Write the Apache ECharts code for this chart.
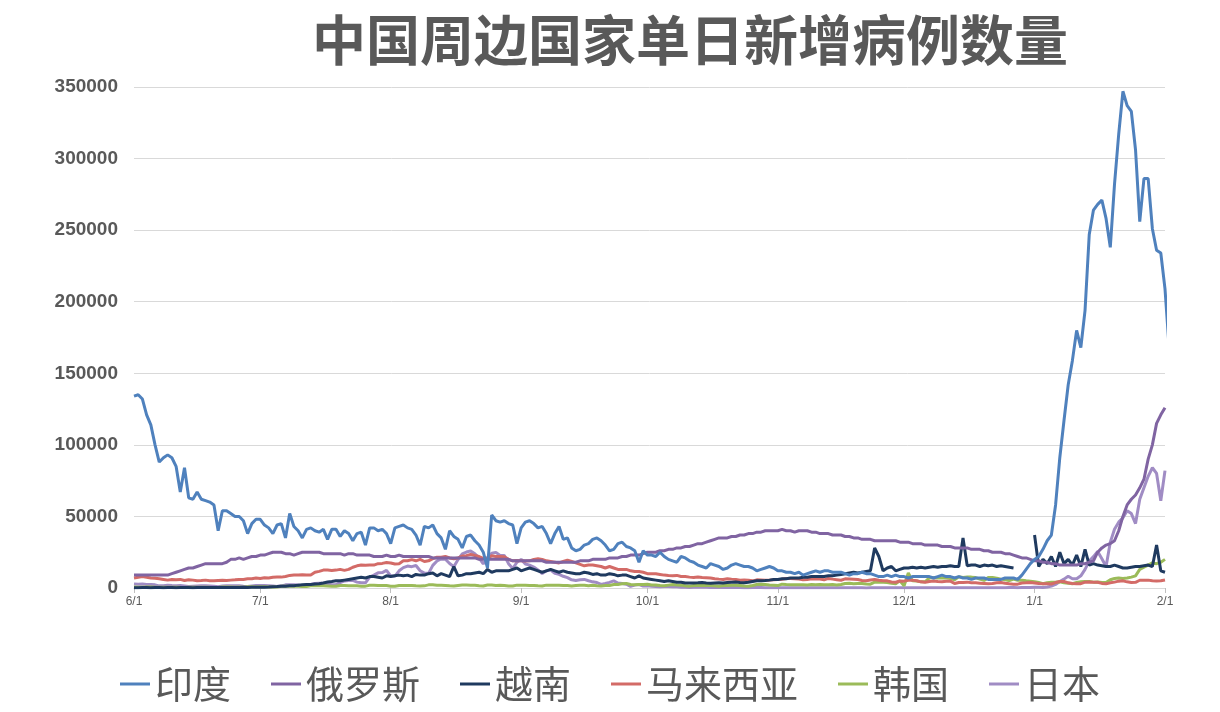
<!DOCTYPE html>
<html><head><meta charset="utf-8">
<script src="https://cdn.jsdelivr.net/npm/echarts@6/dist/echarts.min.js"></script>
<style>html,body{margin:0;padding:0;background:#fff}#c{width:1220px;height:712px}</style>
</head><body><div id="c"></div>
<script>
const yTicks = [0, 50000, 100000, 150000, 200000, 250000, 300000, 350000];
const monthLabels = ['6/1','7/1','8/1','9/1','10/1','11/1','12/1','1/1','2/1'];
const monthLengths = [30,31,31,30,31,30,31,31,1];
const seriesNames = ['印度','俄罗斯','越南','马来西亚','韩国','日本'];

const india = [
134000,135000,132000,121000,114000,100000,88000,91000,93000,91000,85000,67000,84000,63000,62000,67000,62000,61000,60000,58000,40000,54000,54000,52000,50000,50000,47000,38000,45000,48000,
48000,44000,42000,38000,44000,45000,35000,52000,43000,40000,35000,41000,42000,40000,39000,41000,34000,41000,41000,36000,40000,38000,33000,38000,39000,30000,42000,42000,40000,41000,38000,
31000,42000,43000,44000,42000,41000,37000,30000,43000,42000,44000,38000,35000,27000,40000,36000,34000,28000,36000,37000,33000,30000,25000,14000,51000,47000,46000,47000,45000,44000,31000,
42000,46000,47000,45000,42000,43000,38000,31000,38000,43000,34000,35000,28000,26000,27000,30000,31000,34000,35000,33000,30000,26000,27000,31000,32000,29000,28000,26000,18000,26000,23000,
23000,22000,25000,22000,20000,19000,18000,22000,21000,19000,18000,16000,15000,14000,17000,16000,15000,13000,14000,16000,17000,16000,15000,15000,14000,12000,13000,14000,15000,14000,12000,
12000,11000,11000,10000,11000,9000,10000,11000,12000,11000,12000,12000,11000,11000,11000,10000,9000,10000,10000,11000,10000,10000,9000,8000,8000,9000,8000,9000,8000,8000,
7000,8000,8000,8000,8000,8000,7000,8000,9000,8000,8000,7000,8000,7000,7000,6000,7000,7000,7000,6000,6000,6000,6000,7000,7000,7000,6000,9000,13000,17000,20000,
22000,27000,33000,37000,58000,91000,117000,142000,159000,180000,168000,194000,247000,264000,268000,271000,258000,238000,282000,317000,347000,337000,333000,306000,256000,286000,286000,251000,236000,234000,209000,
167000];

const russia = [
9000,9000,9000,9000,9000,9000,9000,9000,9000,10000,11000,12000,13000,14000,14000,15000,16000,17000,17000,17000,17000,17000,18000,20000,20000,21000,20000,21000,22000,22000,
23000,23000,24000,25000,25000,25000,24000,24000,23000,24000,25000,25000,25000,25000,25000,24000,24000,24000,24000,24000,23000,24000,24000,23000,23000,23000,23000,22000,22000,22000,23000,
22000,22000,23000,22000,22000,22000,22000,22000,22000,22000,21000,21000,21000,21000,21000,21000,21000,21000,21000,21000,21000,20000,20000,20000,20000,20000,20000,20000,20000,19000,19000,
19000,19000,19000,19000,19000,19000,18000,18000,18000,18000,18000,18000,18000,18000,19000,19000,19000,20000,20000,20000,20000,21000,21000,21000,22000,22000,23000,23000,23000,24000,
25000,25000,25000,26000,26000,27000,27000,28000,28000,29000,29000,30000,31000,31000,32000,33000,34000,35000,35000,35000,36000,36000,37000,37000,38000,38000,39000,39000,40000,40000,40000,
40000,41000,40000,40000,39000,40000,40000,40000,39000,39000,38000,38000,38000,37000,37000,37000,36000,36000,35000,35000,34000,34000,34000,33000,33000,33000,33000,33000,33000,32000,
32000,32000,31000,31000,31000,30000,30000,30000,30000,29000,29000,29000,28000,28000,28000,28000,27000,27000,27000,26000,26000,25000,25000,25000,24000,24000,23000,22000,21000,21000,20000,
19000,19000,18000,18000,17000,17000,16000,16000,16000,16000,16000,17000,17000,18000,19000,25000,28000,30000,31000,33000,40000,50000,58000,62000,65000,70000,76000,90000,100000,115000,121000,
126000];

const vietnam = [
200,200,300,300,200,300,300,200,300,300,200,300,300,300,200,300,300,400,400,300,300,400,400,400,300,400,500,400,500,500,
500,600,700,900,1000,1200,1300,1500,1600,2000,2300,2400,2500,2800,3000,3500,4200,4500,5000,5000,5500,6000,6500,7000,7500,7000,8000,8000,7500,7000,8500,
8000,8500,9000,8500,9000,8000,9500,9000,9000,10000,10500,8500,10000,9000,8000,15000,8500,9000,10000,10000,10500,11000,10000,13000,11000,12000,12000,12000,12000,13000,14000,
12000,13000,14000,13000,12000,11000,12000,13000,12000,11000,12000,11000,10500,10000,10000,11000,10500,9500,10000,9000,9000,10000,9500,8500,9000,9000,8000,7000,8500,7000,
6500,6000,5500,5000,4500,5000,4500,4000,4000,3500,3500,3500,3600,3800,3500,3300,3500,3700,3500,3800,4000,4200,3800,3600,4000,4500,5000,5000,5200,5500,6000,
6000,6500,6500,7000,7000,7000,7500,7500,8000,8000,8000,8000,8500,8500,9000,9500,10000,10500,11000,10500,11000,11500,12000,28000,22000,12000,14000,15000,12000,13000,
14000,14000,14500,14000,14500,14000,14500,15000,14500,15000,15000,15500,15000,15000,35000,15500,16000,16000,15000,16000,15500,16000,15000,15500,15000,14500,14000,null,null,null,null,
37000,15000,20000,17000,22000,15000,25000,17000,20000,16000,23000,15000,27000,16000,17000,16000,15500,15000,15000,16000,15000,14000,14000,14500,15000,15000,15500,16000,15000,30000,12000,
11000];

const malaysia = [
7000,7500,8000,7500,7000,6800,6500,6000,5500,6000,5800,6000,5200,5800,5500,5000,5200,5500,5000,5000,5300,5400,5300,5500,5700,6000,6000,6500,6500,7000,
6700,7200,7000,7500,7600,7600,8000,8800,9000,9000,9200,9000,9100,11000,11600,12500,12500,12200,12500,13000,12300,13000,14500,15500,16000,15900,16000,16000,17000,17200,17800,
17500,16800,17000,19000,19000,19800,19000,20000,18500,19000,20500,21500,21500,22000,21000,20500,21000,22300,22600,23500,22700,22000,20700,20500,22500,22000,22000,21800,20000,19000,19200,
19000,18800,19000,20000,20400,20000,19000,18500,18000,17500,18500,19500,18500,17500,16500,15500,16000,16000,15500,15000,14000,15000,14000,13000,13000,13000,12000,11500,11500,11000,
10000,10000,10000,9500,9000,8700,8600,8800,8000,8000,7600,7300,7700,7300,7200,7000,6500,6200,6000,6500,6200,6000,5500,5600,5500,5000,5700,5600,5400,5500,5700,
6000,6100,6600,6700,6500,6300,5800,6000,6500,6300,6300,5700,6700,6200,5800,5400,6400,6300,6100,5900,5300,5100,5600,6000,5400,5000,5000,4200,4000,4900,
4800,5400,5500,5100,4300,4000,4600,4900,4500,4400,4700,4800,3100,3800,3900,4100,3700,3600,3400,3200,3000,3100,3700,3800,3300,2900,2700,2700,3500,3600,3900,
3500,3100,3000,2900,2800,3800,4500,4500,3600,3100,3000,3000,4100,4200,4000,4000,3200,3000,3600,4100,4800,5000,4300,3800,4000,5400,5400,5500,5000,4900,5000,
5600];

const korea = [
700,500,600,700,700,550,500,600,600,600,550,450,400,550,550,600,500,550,450,400,400,650,650,650,600,650,600,800,800,700,
800,800,750,700,750,1200,1200,1300,1300,1300,1100,1100,1600,1600,1600,1500,1400,1200,1200,1800,1800,1600,1600,1500,1300,1300,1900,1900,1700,1700,1700,
1200,1200,1700,1700,1700,1700,1500,1400,1500,2200,2200,2000,1900,1800,1500,1400,1800,2100,2100,2000,1900,1600,1400,2100,2100,1800,1900,1800,1400,1400,2000,
2000,1900,1700,1800,1500,1400,2000,2000,1900,1900,1800,1700,1400,1700,2000,1900,1600,1900,1600,1400,1700,1700,2400,2400,2900,3200,2400,2300,2500,2500,
2600,2100,2100,1700,1600,2000,2400,2100,2000,1600,1300,1800,1900,1700,1900,1700,1500,1300,1700,1700,2000,2000,1700,1400,1300,1700,2400,2600,2400,2100,2000,
1700,2700,2400,2300,2300,2200,2300,2100,2400,2200,2500,2300,2300,2400,2100,2500,3200,3300,3000,3200,3100,2800,2700,4100,4100,4000,3900,3300,3000,5000,
1500,10500,5000,4900,4300,4300,7100,7100,7000,7000,6900,6600,5800,7800,7400,7600,7600,7300,6200,5300,7400,7400,6900,6200,5800,5200,6300,5400,5400,5000,4800,
4400,3800,3000,3700,4100,4000,4300,3600,3300,3000,3800,4300,4500,4500,4100,4200,3800,3800,5800,6600,7000,6700,7000,7600,8500,13000,14500,16000,17500,17000,18000,
20000];

const japan = [
2800,2600,2800,2500,2400,2200,1500,1500,2000,1700,1600,1700,1400,1000,1200,1400,1500,1500,1400,1300,900,1400,1600,1600,1500,1500,1200,1000,1400,1800,
1800,1700,1600,1400,1000,1500,2200,2300,2200,2100,1500,1500,2400,3200,3400,3400,3000,2300,2300,3700,4900,5300,5300,4100,3600,3600,7600,9000,10600,10800,12300,
8400,8300,12000,14200,15300,14900,15700,12100,10400,10200,15800,18900,20300,20100,17100,14900,19900,23900,25100,25900,23900,21100,16800,21500,24300,24900,22700,22700,17000,13600,18000,
20000,16800,16000,14600,12600,10100,12000,12500,10300,9500,8200,7200,5700,5300,5700,6000,5100,4300,3800,2500,3100,3900,5000,3500,3100,2600,1100,2000,2400,1400,
1500,1200,1000,800,1000,1000,900,800,600,600,400,600,700,600,500,400,400,400,300,400,400,300,300,200,200,300,300,300,200,200,200,
200,100,100,100,200,200,150,100,200,200,200,200,150,100,100,130,150,140,150,150,100,50,100,150,100,100,100,90,90,100,
100,100,100,130,150,150,100,100,200,160,130,130,100,170,200,150,200,200,180,160,130,200,250,250,250,300,300,200,400,400,350,
500,500,400,700,1300,2500,4500,6200,8200,6400,6400,8500,13000,18800,21900,25500,20400,15000,32000,41000,46000,49000,54000,52000,45000,62000,70000,78000,84000,80000,61000,
82000];

const colors = ['#4f81bd','#8064a2','#1f3a5f','#d36b67','#9bbb59','#a08cc4'];

const dates = [];
const labelIdx = new Set();
monthLabels.forEach((m, i) => {
  const [mo] = m.split('/');
  for (let d = 1; d <= monthLengths[i]; d++) {
    if (d === 1) labelIdx.add(dates.length);
    dates.push(mo + '/' + d);
  }
});

const dataList = [india, russia, vietnam, malaysia, korea, japan];
const chart = echarts.init(document.getElementById('c'));
chart.setOption({
  animation: false,
  title: {text: '中国周边国家单日新增病例数量', left: 685, top: 8, textAlign: 'center',
    textStyle: {fontFamily: 'Noto Sans CJK SC', fontSize: 54, fontWeight: 'bold', color: '#595959'}},
  legend: {bottom: 4, left: 'center', itemWidth: 30, itemHeight: 3, itemGap: 40,
    icon: 'rect',
    textStyle: {fontFamily: 'Noto Sans CJK SC', fontSize: 38, color: '#595959'},
    data: seriesNames},
  grid: {left: 134, right: 55, top: 87, bottom: 124},
  xAxis: {type: 'category', data: dates, boundaryGap: false,
    axisLine: {lineStyle: {color: '#d9d9d9'}},
    axisTick: {show: true, interval: (i) => labelIdx.has(i), lineStyle: {color: '#bfbfbf'}, length: 5},
    axisLabel: {interval: (i) => labelIdx.has(i), formatter: (v) => v.endsWith('/1') ? v : '',
      fontSize: 12, color: '#595959', margin: 8}},
  yAxis: {type: 'value', min: 0, max: 350000, interval: 50000,
    axisLine: {show: false}, axisTick: {show: false},
    splitLine: {lineStyle: {color: '#d9d9d9'}},
    axisLabel: {fontSize: 19, fontWeight: 'bold', color: '#595959', fontFamily: 'Liberation Sans', margin: 16,
      formatter: (v) => String(v)}},
  series: seriesNames.map((n, i) => ({
    name: n, type: 'line', data: dataList[i], showSymbol: false, symbol: 'none',
    connectNulls: false, lineStyle: {width: 3, color: colors[i]}, itemStyle: {color: colors[i]},
    z: 10 - i
  }))
});
</script></body></html>
